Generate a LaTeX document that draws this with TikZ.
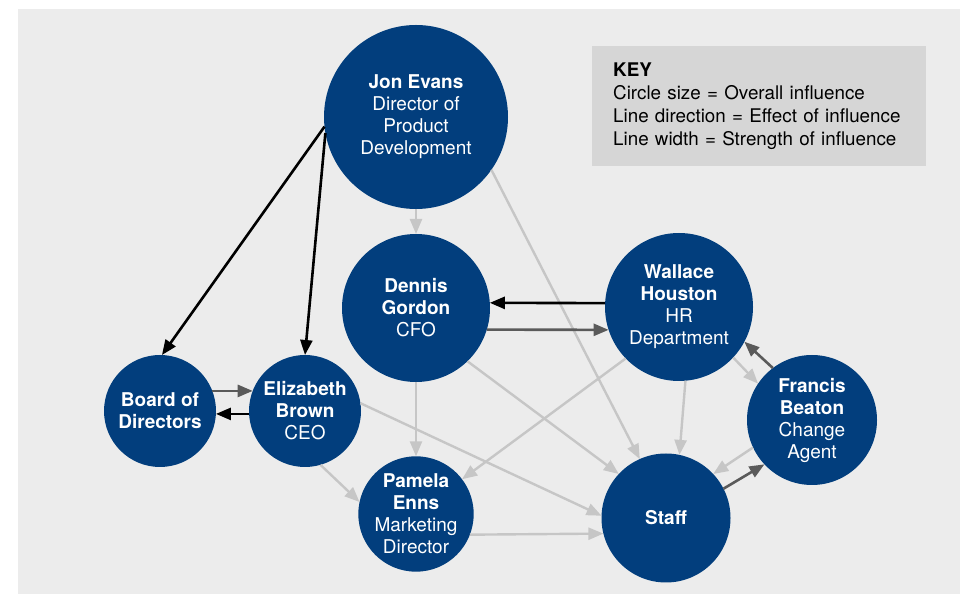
\documentclass[tikz,border=0pt]{standalone}
\usepackage{fontspec}
\setmainfont{TeX Gyre Heros}
\usepackage{xcolor}
\usetikzlibrary{arrows.meta}
\definecolor{navy}{HTML}{023E7D}
\definecolor{backgray}{HTML}{ECECEC}
\definecolor{keygray}{HTML}{D6D6D6}
\definecolor{weakgray}{HTML}{C6C6C6}
\definecolor{midgray}{HTML}{5A5A5A}
\tikzset{
  person/.style={circle, fill=navy, text=white, inner sep=0pt, outer sep=0pt,
    align=center, font=\fontsize{19}{22}\selectfont},
  strong/.style={-{Triangle[length=15pt,width=12pt]}, line width=2.6pt, black},
  medium/.style={-{Triangle[length=15pt,width=12pt]}, line width=2.6pt, midgray},
  weak/.style={-{Triangle[length=15pt,width=12pt]}, line width=2.4pt, weakgray}
}

\begin{document}
\begin{tikzpicture}[x=1pt, y=1pt]

\useasboundingbox (0,0) rectangle (967,594);
\fill[backgray] (18,0) rectangle (960,585);

\node[fill=keygray, anchor=north west, minimum width=334pt, minimum height=120pt,
  text width=292pt, inner xsep=21pt, align=left,
  font=\fontsize{18.8}{23}\selectfont] (key) at (592,548)
  {\textbf{KEY}\\Circle size = Overall influence\\Line direction = Effect of influence\\Line width = Strength of influence};

% people
\node[person, minimum size=184pt] (je) at (416,477) {\textbf{Jon Evans}\\Director of\\Product\\Development};
\node[person, minimum size=148pt] (dg) at (416,286) {\textbf{Dennis}\\\textbf{Gordon}\\CFO};
\node[person, minimum size=148pt] (wh) at (679,287) {\textbf{Wallace}\\\textbf{Houston}\\HR\\Department};
\node[person, minimum size=130pt] (fb) at (812,174) {\textbf{Francis}\\\textbf{Beaton}\\Change\\Agent};
\node[person, minimum size=112pt] (bd) at (160,183) {\textbf{Board of}\\\textbf{Directors}};
\node[person, minimum size=112pt] (eb) at (305,183) {\textbf{Elizabeth}\\\textbf{Brown}\\CEO};
\node[person, minimum size=112pt] (pe) at (416,80) {\textbf{Pamela}\\\textbf{Enns}\\Marketing\\Director};
\node[person, minimum size=129pt] (st) at (666,76) {\textbf{Staff}};

% influence
\draw[strong] (je.186) -- (bd.88);
\draw[strong] (je.190) -- (eb.90);
\draw[weak] (je.270) -- (dg.90);
\draw[weak] (je.-35) -- (st.114);

\draw[strong] (wh.177) -- (dg.4);
\draw[medium] (dg.-17) -- (wh.198);

\draw[medium] (bd.21) -- (eb.159);
\draw[strong] (eb.183) -- (bd.-3);

\draw[weak] (eb.8) -- (st.178);
\draw[weak] (eb.-74) -- (pe.168);
\draw[weak] (dg.270) -- (pe.90);
\draw[weak] (dg.-46) -- (st.137);
\draw[weak] (wh.224) -- (pe.37);
\draw[weak] (wh.-85) -- (st.78);
\draw[weak] (wh.-43) -- (fb.146);
\draw[medium] (fb.127) -- (wh.-28);
\draw[weak] (fb.205) -- (st.43);
\draw[medium] (st.27) -- (fb.223);
\draw[weak] (pe.-21) -- (st.194);

\end{tikzpicture}
\end{document}
